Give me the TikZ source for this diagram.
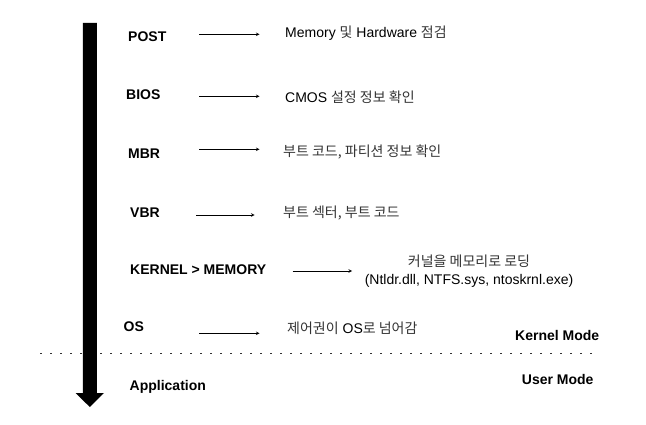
\documentclass[tikz,border=0pt]{standalone}
\usepackage{fontspec}
\setmainfont{Liberation Sans}
\newfontfamily\kofont{Noto Sans CJK KR}
\newcommand{\ko}[1]{{\kofont\color{black!80}#1}}
\usepackage{xcolor}
\usepackage{tikz}
\usetikzlibrary{arrows,positioning}
\tikzset{
  stage/.style={
    anchor=west, inner sep=0pt, text height=10pt, text depth=0pt,
    font=\fontsize{14}{17}\selectfont\bfseries
  },
  desc/.style={
    anchor=west, inner sep=0pt, text height=10pt, text depth=0pt,
    font=\fontsize{14}{17}\selectfont
  },
  desclines/.style={
    inner sep=0pt, align=center,
    font=\fontsize{14}{18.3}\selectfont
  },
  modetag/.style={
    anchor=west, inner sep=0pt, text height=10pt, text depth=0pt,
    font=\fontsize{14}{17}\selectfont\bfseries
  },
  flow/.style={->, >=stealth, line width=0.6pt, color=black},
  bootarrow/.style={fill=black},
  boundary/.style={line width=1.8pt, dash pattern=on 1.8pt off 8.2pt, color=black!80},
}

\begin{document}
\begin{tikzpicture}[x=1pt, y=-1pt]
  \useasboundingbox (0,0) rectangle (646,425);

  % Kernel / user boundary
  \coordinate (lineL) at (40,353.5);
  \coordinate (lineR) at (598,353.5);
  \draw[boundary] (lineL) -- (lineR);

  % Boot order arrow
  \fill[bootarrow] (82.8,23) -- (96.8,23) -- (96.8,393) -- (104,393)
    -- (89.8,407) -- (75.6,393) -- (82.8,393) -- cycle;

  % Boot stages
  \node[stage] (post)   at (128,36.7)  {POST};
  \node[stage] (bios)   at (126,95)    {BIOS};
  \node[stage] (mbr)    at (128,154)   {MBR};
  \node[stage] (vbr)    at (130,212.3) {VBR};
  \node[stage] (kernel) at (130,269.3) {KERNEL > MEMORY};
  \node[stage] (os)     at (123.5,326) {OS};
  \node[stage] (app)    at (129.5,385) {Application};

  % What each stage does
  \node[desc] (postinfo) at (285,32.7)  {Memory \ko{및} Hardware \ko{점검}};
  \node[desc] (biosinfo) at (285,97.3)  {CMOS \ko{설정 정보 확인}};
  \node[desc] (mbrinfo)  at (283,151.7) {\ko{부트 코드, 파티션 정보 확인}};
  \node[desc] (vbrinfo)  at (283,212.3) {\ko{부트 섹터, 부트 코드}};
  \node[desclines] (kernelinfo) at (469,271)
        {\ko{커널을 메모리로 로딩}\\(Ntldr.dll, NTFS.sys, ntoskrnl.exe)};
  \node[desc] (osinfo)   at (287,328.3) {\ko{제어권이} OS\ko{로 넘어감}};

  % Mode labels
  \node[modetag] (kmode) at (515,335)   {Kernel Mode};
  \node[modetag] (umode) at (521.7,379) {User Mode};

  % Stage arrows
  \coordinate (postA)   at (199,34.3);  \coordinate (postB)   at (259.5,34.3);
  \coordinate (biosA)   at (199,96.3);  \coordinate (biosB)   at (259.5,96.3);
  \coordinate (mbrA)    at (199,149.3); \coordinate (mbrB)    at (259.5,149.3);
  \coordinate (vbrA)    at (196,215);   \coordinate (vbrB)    at (254.5,215);
  \coordinate (kernelA) at (292.5,271); \coordinate (kernelB) at (352,271);
  \coordinate (osA)     at (199,333.3); \coordinate (osB)     at (259.5,333.3);

  \draw[flow] (postA)   -- (postB);
  \draw[flow] (biosA)   -- (biosB);
  \draw[flow] (mbrA)    -- (mbrB);
  \draw[flow] (vbrA)    -- (vbrB);
  \draw[flow] (kernelA) -- (kernelB);
  \draw[flow] (osA)     -- (osB);

\end{tikzpicture}
\end{document}
